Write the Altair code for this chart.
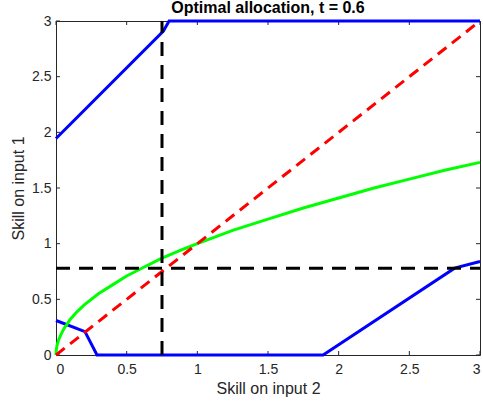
import altair as alt
import pandas as pd

# ---- data ----
green_x = [0, 0.002, 0.005, 0.01, 0.02, 0.03, 0.045, 0.06, 0.08, 0.1, 0.15, 0.2, 0.3, 0.4, 0.5, 0.6,
           0.75, 0.9, 1.0, 1.25, 1.5, 1.75, 2.0, 2.25, 2.5, 2.75, 3.0]
green_y = [0, 0.045, 0.07, 0.10, 0.14, 0.17, 0.21, 0.245, 0.28, 0.32, 0.39, 0.45, 0.55, 0.63, 0.71, 0.775,
           0.87, 0.95, 1.0, 1.12, 1.22, 1.32, 1.41, 1.50, 1.58, 1.66, 1.73]

blue_up_x = [0, 0.76, 0.80, 3.0]
blue_up_y = [1.945, 2.91, 3.0, 3.0]

blue_lo_x = [0, 0.205, 0.29, 1.89, 2.82, 3.0]
blue_lo_y = [0.31, 0.21, 0.0, 0.0, 0.78, 0.84]

red_x = [0, 3]
red_y = [0, 3]

v_cut = 0.75   # vertical dashed line (x)
h_cut = 0.78   # horizontal dashed line (y)

tick_vals = [0, 0.5, 1, 1.5, 2, 2.5, 3]
x_dom = [0, 3]
y_dom = [0, 3]

FONT = "Liberation Sans"
AX = "#262626"

xs = alt.Scale(domain=x_dom, nice=False, zero=False)
ys = alt.Scale(domain=y_dom, nice=False, zero=False)

x_axis = alt.Axis(values=tick_vals, title="Skill on input 2", format="~g",
                  labelPadding=7, titlePadding=4)
y_axis = alt.Axis(values=tick_vals, title="Skill on input 1", format="~g",
                  labelPadding=5, titlePadding=5)


def line(xv, yv, color, dash=None):
    df = pd.DataFrame({"x": xv, "y": yv, "o": list(range(len(xv)))})
    kw = dict(color=color, strokeWidth=3)
    if dash:
        kw["strokeDash"] = dash
    return alt.Chart(df).mark_line(**kw).encode(
        x=alt.X("x:Q", scale=xs, axis=x_axis),
        y=alt.Y("y:Q", scale=ys, axis=y_axis),
        order="o:Q")


# inward ticks on all four sides
tdx = 0.028
tdy = 0.036
ticks_df = pd.DataFrame({"v": tick_vals})
bottom_t = alt.Chart(ticks_df).mark_rule(color=AX, strokeWidth=1).encode(
    x=alt.X("v:Q", scale=xs, axis=x_axis), y=alt.datum(y_dom[0], scale=ys, axis=y_axis),
    y2=alt.datum(y_dom[0] + tdy))
top_t = alt.Chart(ticks_df).mark_rule(color=AX, strokeWidth=1).encode(
    x=alt.X("v:Q", scale=xs, axis=x_axis), y=alt.datum(y_dom[1], scale=ys, axis=y_axis),
    y2=alt.datum(y_dom[1] - tdy))
left_t = alt.Chart(ticks_df).mark_rule(color=AX, strokeWidth=1).encode(
    y=alt.Y("v:Q", scale=ys, axis=y_axis), x=alt.datum(x_dom[0], scale=xs, axis=x_axis),
    x2=alt.datum(x_dom[0] + tdx))
right_t = alt.Chart(ticks_df).mark_rule(color=AX, strokeWidth=1).encode(
    y=alt.Y("v:Q", scale=ys, axis=y_axis), x=alt.datum(x_dom[1], scale=xs, axis=x_axis),
    x2=alt.datum(x_dom[1] - tdx))

blue_up = line(blue_up_x, blue_up_y, "#0000FF")
blue_lo = line(blue_lo_x, blue_lo_y, "#0000FF")
green = line(green_x, green_y, "#00FF00")
red = line(red_x, red_y, "#FF0000", dash=[11, 7])
vline = line([v_cut, v_cut], y_dom, "#000000", dash=[14, 9])
hline = line(x_dom, [h_cut, h_cut], "#000000", dash=[14, 9])

chart = alt.layer(
    bottom_t, top_t, left_t, right_t,
    blue_up, blue_lo, green, red, vline, hline,
).properties(
    width=424, height=334,
    title=alt.TitleParams("Optimal allocation, t = 0.6", font=FONT, fontSize=16,
                          fontWeight="bold", color="#000000", anchor="middle", offset=-1.5),
    autosize=alt.AutoSizeParams(type="none"),
    padding={"left": 56, "top": 21, "right": 3, "bottom": 51},
    background="white",
).configure_view(
    stroke=AX, strokeWidth=1, fill="white"
).configure_axis(
    domain=False, ticks=False, grid=False,
    labelFont=FONT, labelFontSize=14, labelColor=AX,
    titleFont=FONT, titleFontSize=16, titleColor=AX, titleFontWeight="normal",
)

chart.save("out.html", embed_options={"renderer": "svg", "actions": False})
